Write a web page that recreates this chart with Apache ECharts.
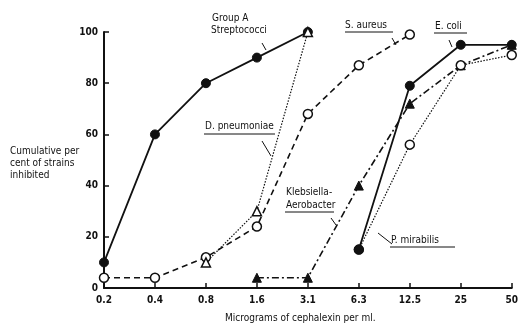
<!DOCTYPE html>
<html>
<head>
<meta charset="utf-8">
<script src="https://cdn.jsdelivr.net/npm/echarts@6/dist/echarts.min.js"></script>
<style>
  html, body { margin: 0; padding: 0; background: #fff; }
  #main { width: 521px; height: 327px; }
</style>
</head>
<body>
<div id="main"></div>
<script>
// micrograms of cephalexin per ml (log-spaced categories)
const doses = ['0.2', '0.4', '0.8', '1.6', '3.1', '6.3', '12.5', '25', '50']
const yTicks = [0, 20, 40, 60, 80, 100]

// cumulative per cent of strains inhibited
const groupA = [10, 60, 80, 90, 100, null, null, null, null]
const dPneumoniae = [null, null, 10, 30, 100, null, null, null, null]
const sAureus = [4, 4, 12, 24, 68, 87, 99, null, null]
const klebsiella = [null, null, null, 4, 4, 40, 72, 87, 95]
const eColi = [null, null, null, null, null, 15, 79, 95, 95]
const pMirabilis = [null, null, null, null, null, 15, 56, 87, 91]

const FONT = '"DejaVu Sans Condensed", "Liberation Sans Narrow", "DejaVu Sans", sans-serif'

const chart = echarts.init(document.getElementById('main'))

function txt (x, y, text, size) {
  return { type: 'text', left: x, top: y, style: { text: text, font: (size || 10) + 'px ' + FONT, fill: '#111' } }
}
function seg (x1, y1, x2, y2, w) {
  return { type: 'line', shape: { x1: x1, y1: y1, x2: x2, y2: y2 }, style: { stroke: '#111', lineWidth: w || 1 } }
}

const openSym = { color: '#fff', borderColor: '#111', borderWidth: 1.5 }
const fillSym = { color: '#111', borderColor: '#111', borderWidth: 1 }

const options = {
  backgroundColor: '#fff',
  animation: false,
  grid: { left: 104, right: 6, top: 32, bottom: 39 },
  xAxis: {
    type: 'category',
    data: doses,
    boundaryGap: false,
    axisLine: { lineStyle: { color: '#111', width: 2 } },
    axisTick: { inside: true, length: 5, lineStyle: { color: '#111', width: 1.5 } },
    axisLabel: { color: '#111', fontFamily: FONT, fontSize: 10, fontWeight: 'bold', margin: 7 },
    splitLine: { show: false }
  },
  yAxis: {
    type: 'value',
    min: yTicks[0],
    max: yTicks[yTicks.length - 1],
    interval: 20,
    axisLine: { show: true, lineStyle: { color: '#111', width: 2 } },
    axisTick: { show: true, inside: true, length: 5, lineStyle: { color: '#111', width: 1.5 } },
    axisLabel: { color: '#111', fontFamily: FONT, fontSize: 10, fontWeight: 'bold', margin: 6 },
    splitLine: { show: false }
  },
  series: [
    {
      name: 'Group A Streptococci', type: 'line', data: groupA,
      symbol: 'circle', symbolSize: 9, itemStyle: fillSym,
      lineStyle: { color: '#111', width: 1.8, type: 'solid' }
    },
    {
      name: 'S. aureus', type: 'line', data: sAureus,
      symbol: 'circle', symbolSize: 9, itemStyle: openSym,
      lineStyle: { color: '#111', width: 1.6, type: [6, 4] }
    },
    {
      name: 'D. pneumoniae', type: 'line', data: dPneumoniae,
      symbol: 'triangle', symbolSize: 9, itemStyle: openSym,
      lineStyle: { color: '#111', width: 1.2, type: [1.5, 1.5] }
    },
    {
      name: 'Klebsiella-Aerobacter', type: 'line', data: klebsiella,
      symbol: 'triangle', symbolSize: 9, itemStyle: fillSym,
      lineStyle: { color: '#111', width: 1.6, type: [7, 3, 2, 3] }
    },
    {
      name: 'P. mirabilis', type: 'line', data: pMirabilis,
      symbol: 'circle', symbolSize: 9, itemStyle: openSym,
      lineStyle: { color: '#111', width: 1.2, type: [1.5, 1.5] }
    },
    {
      name: 'E. coli', type: 'line', data: eColi,
      symbol: 'circle', symbolSize: 9, itemStyle: fillSym,
      lineStyle: { color: '#111', width: 1.8, type: 'solid' }
    }
  ],
  graphic: [
    // axis titles
    txt(10, 146, 'Cumulative per'),
    txt(10, 158, 'cent of strains'),
    txt(10, 170, 'inhibited'),
    txt(225, 313, 'Micrograms of cephalexin per ml.'),
    // curve labels
    txt(212, 13, 'Group A'),
    txt(211, 25, 'Streptococci'),
    seg(262, 43, 266, 50),
    txt(345, 20, 'S. aureus'),
    seg(345, 32, 393, 32),
    seg(392, 38, 396, 45),
    txt(435, 21, 'E. coli'),
    seg(434, 33, 467, 33),
    seg(449, 40, 452, 47),
    txt(205, 121, 'D. pneumoniae'),
    seg(204, 134, 275, 134),
    seg(262, 141, 271, 156),
    txt(286, 187, 'Klebsiella-'),
    txt(286, 200, 'Aerobacter'),
    seg(285, 212, 334, 212),
    seg(331, 218, 336, 225),
    txt(391, 235, 'P. mirabilis'),
    seg(390, 247, 455, 247),
    seg(378, 233, 392, 244)
  ]
}
chart.setOption(options)
</script>
</body>
</html>
